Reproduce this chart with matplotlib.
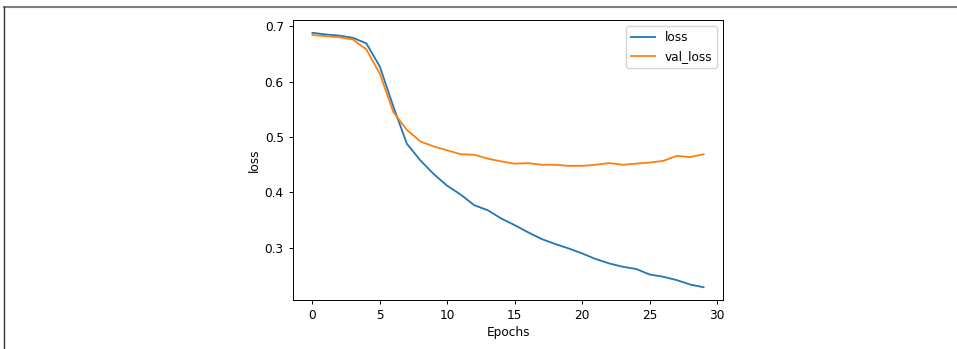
import matplotlib
matplotlib.use('Agg')
import matplotlib.pyplot as plt
from matplotlib.lines import Line2D

# values
epochs = list(range(30))
loss = [0.688, 0.685, 0.683, 0.679, 0.669, 0.627, 0.555, 0.488, 0.458, 0.433,
        0.412, 0.396, 0.377, 0.368, 0.353, 0.341, 0.328, 0.316, 0.307, 0.299,
        0.290, 0.280, 0.272, 0.266, 0.262, 0.252, 0.248, 0.242, 0.234, 0.229]
val_loss = [0.684, 0.682, 0.680, 0.676, 0.658, 0.614, 0.545, 0.513, 0.492, 0.483,
            0.476, 0.469, 0.468, 0.461, 0.456, 0.452, 0.453, 0.450, 0.450, 0.448,
            0.448, 0.450, 0.453, 0.450, 0.452, 0.454, 0.457, 0.466, 0.464, 0.469]

fs = 8.7
fig = plt.figure(figsize=(9.57, 3.49), dpi=100)
ax = fig.add_axes([0.306, 0.1404, 0.4497, 0.802])
ax.plot(epochs, loss, linewidth=1.3, label='loss')
ax.plot(epochs, val_loss, linewidth=1.3, label='val_loss')
ax.set_xlabel('Epochs', fontsize=fs, labelpad=3)
ax.set_ylabel('loss', fontsize=fs, labelpad=3)
ax.tick_params(labelsize=fs, length=3, width=0.7)
for s in ax.spines.values():
    s.set_linewidth(0.7)
ax.legend(fontsize=fs, loc='upper right')

# frame of the screenshot
fig.add_artist(Line2D([4/957, 1], [1-6.5/349, 1-6.5/349], transform=fig.transFigure,
                      color='#808080', linewidth=1.5))
fig.add_artist(Line2D([4/957, 4/957], [0, 1-6.5/349], transform=fig.transFigure,
                      color='#333333', linewidth=1.0))

fig.savefig('out.png', dpi=100)
